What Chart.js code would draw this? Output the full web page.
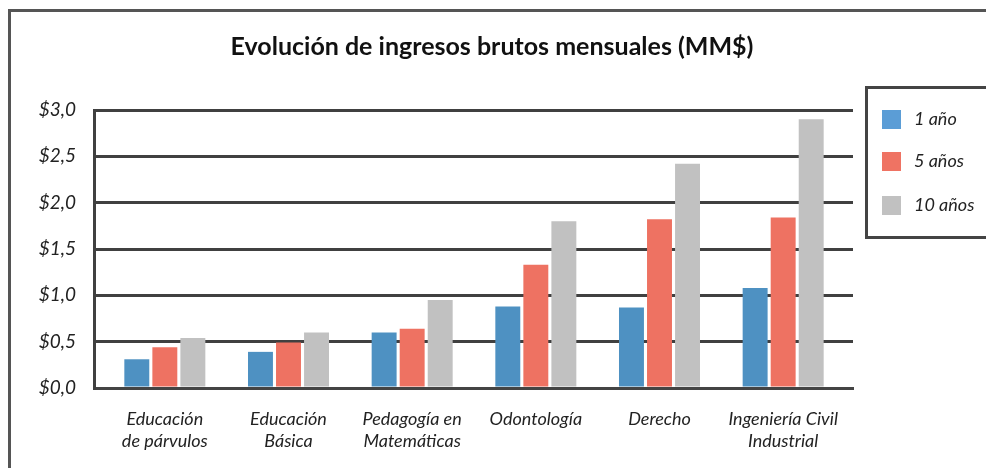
<!DOCTYPE html>
<html>
<head>
<meta charset="utf-8">
<script src="https://cdn.jsdelivr.net/npm/chart.js@4"></script>
<style>
  html, body { margin: 0; padding: 0; background: #fff; }
  #wrap { width: 986px; height: 468px; position: relative; }
</style>
</head>
<body>
<div id="wrap"><canvas id="ingresos" width="986" height="468"></canvas></div>
<script>
// carreras y series (MM$)
const carreras = [
    ["Educación", "de párvulos"],
    ["Educación", "Básica"],
    ["Pedagogía en", "Matemáticas"],
    "Odontología",
    "Derecho",
    ["Ingeniería Civil", "Industrial"]
];
const series = ["1 año", "5 años", "10 años"];
const unAno = [0.31, 0.39, 0.60, 0.88, 0.87, 1.08];
const cincoAnos = [0.44, 0.49, 0.64, 1.33, 1.82, 1.84];
const diezAnos = [0.54, 0.60, 0.95, 1.80, 2.42, 2.90];
const titulo = "Evolución de ingresos brutos mensuales (MM$)";
const colores = ["#4E91C2", "#EE7262", "#C1C1C1"];
const coloresLeyenda = ["#5B9DD6", "#EF7363", "#C1C1C1"];

const fuente = "Lato, 'Open Sans', sans-serif";

// el eje de categorías queda algo más adentro que las líneas de la grilla
const margenCategorias = {
    id: "margenCategorias",
    afterLayout(chart) {
        const x = chart.scales.x;
        x._startPixel += 9;
        x._length -= 17;
    }
};

// marco exterior, título y leyenda con recuadro
const marco = {
    id: "marco",
    afterDraw(chart) {
        const c = chart.ctx;
        c.save();
        c.strokeStyle = "#555";
        c.lineWidth = 3;
        c.beginPath();
        c.moveTo(9.5, 470);
        c.lineTo(9.5, 10.5);
        c.lineTo(990, 10.5);
        c.stroke();

        c.fillStyle = "#111";
        c.font = "bold 25px " + fuente;
        c.textAlign = "center";
        c.textBaseline = "middle";
        c.fillText(titulo, 492, 47);

        // leyenda
        c.strokeStyle = "#444";
        c.lineWidth = 3;
        c.strokeRect(866.5, 87.5, 130, 150);
        const ys = [119, 161, 205];
        c.font = "italic 18px " + fuente;
        c.textAlign = "left";
        chart.data.datasets.forEach(function (ds, i) {
            c.fillStyle = coloresLeyenda[i];
            c.fillRect(882, ys[i] - 9, 19, 19);
            c.fillStyle = "#222";
            c.fillText(ds.label, 914, ys[i]);
        });
        c.restore();
    }
};

new Chart(document.getElementById("ingresos").getContext("2d"), {
    type: "bar",
    data: {
        labels: carreras,
        datasets: [
            { label: series[0], data: unAno, backgroundColor: colores[0] },
            { label: series[1], data: cincoAnos, backgroundColor: colores[1] },
            { label: series[2], data: diezAnos, backgroundColor: colores[2] }
        ]
    },
    options: {
        responsive: false,
        animation: false,
        categoryPercentage: 0.68,
        barPercentage: 0.89,
        layout: { padding: { left: 0, right: 133, top: 110, bottom: 0 } },
        plugins: {
            legend: { display: false },
            tooltip: { enabled: false },
            title: { display: false }
        },
        scales: {
            x: {
                grid: { display: false, drawTicks: false },
                border: { display: true, color: "#444", width: 3 },
                ticks: {
                    color: "#222",
                    padding: 20,
                    maxRotation: 0,
                    autoSkip: false,
                    font: { family: fuente, size: 18, style: "italic", lineHeight: 1.22 }
                },
                afterFit(scale) { scale.height = 80; }
            },
            y: {
                min: 0,
                max: 3,
                grid: { color: "#404040", lineWidth: 3, drawTicks: false },
                border: { display: true, color: "#404040", width: 3 },
                ticks: {
                    stepSize: 0.5,
                    padding: 18,
                    color: "#222",
                    font: { family: fuente, size: 19, style: "italic" },
                    callback: function (v) { return "$" + v.toFixed(1).replace(".", ","); }
                },
                afterFit(scale) { scale.width = 94; }
            }
        }
    },
    plugins: [margenCategorias, marco]
});
</script>
</body>
</html>
